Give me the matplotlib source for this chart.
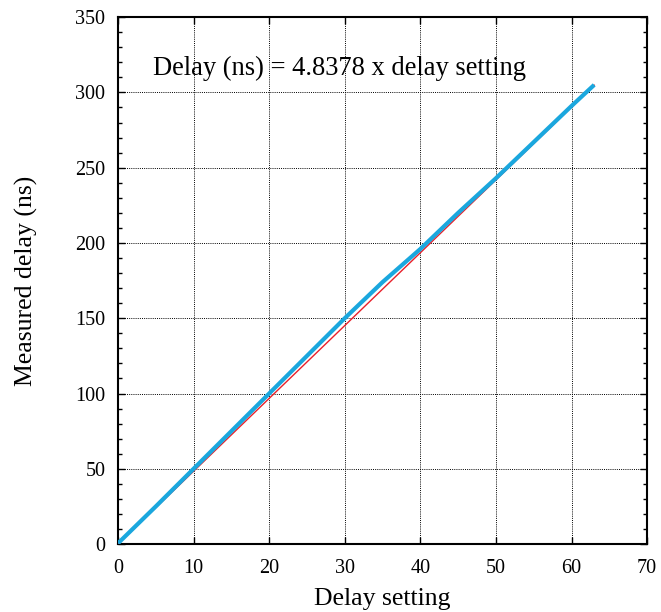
import matplotlib
matplotlib.use("Agg")
from matplotlib import pyplot as plt
from matplotlib.ticker import MultipleLocator

# measured delay vs delay setting
setting = [0, 5, 10, 15, 20, 25, 30, 35, 40, 45, 50, 55, 60, 63]
measured = [0.5, 25, 50, 75, 100, 125, 150, 174, 196, 220, 243, 267, 291, 305]

# linear fit
slope = 4.8378
fit_x = [0, 63]
fit_y = [slope * v for v in fit_x]

plt.rcParams['font.family'] = ['Liberation Serif', 'DejaVu Serif']

fig = plt.figure(figsize=(6.61, 6.12), dpi=100)
ax = fig.add_axes([0.1785, 0.111, 0.8005, 0.861])

ax.plot(fit_x, fit_y, color="#e8202a", lw=1.0, zorder=3)
ax.plot(setting, measured, color="#1aa7de", lw=3.0, zorder=4,
        solid_capstyle="butt")

ax.set_xlim(0, 70)
ax.set_ylim(0, 350)
ax.xaxis.set_major_locator(MultipleLocator(10))
ax.yaxis.set_major_locator(MultipleLocator(50))
ax.yaxis.set_minor_locator(MultipleLocator(10))
ax.tick_params(which="both", direction="in", top=True, right=True,
               labelsize=14.5, width=1.0)
ax.tick_params(axis="x", which="major", pad=11)
ax.tick_params(axis="y", which="major", pad=9)
ax.tick_params(which="major", length=5)
ax.tick_params(which="minor", length=3)
ax.grid(True, which="major", color="black", ls=(0, (1, 1.2)), lw=0.7)
for s in ax.spines.values():
    s.set_linewidth(1.5)

ax.set_xlabel("Delay setting", fontsize=18.5, labelpad=7)
ax.set_ylabel("Measured delay (ns)", fontsize=18.5, labelpad=27)
ax.text(4.6, 316, "Delay (ns) = 4.8378 x delay setting", fontsize=19.1,
        va="center", ha="left")

fig.savefig("out.png", dpi=100)
